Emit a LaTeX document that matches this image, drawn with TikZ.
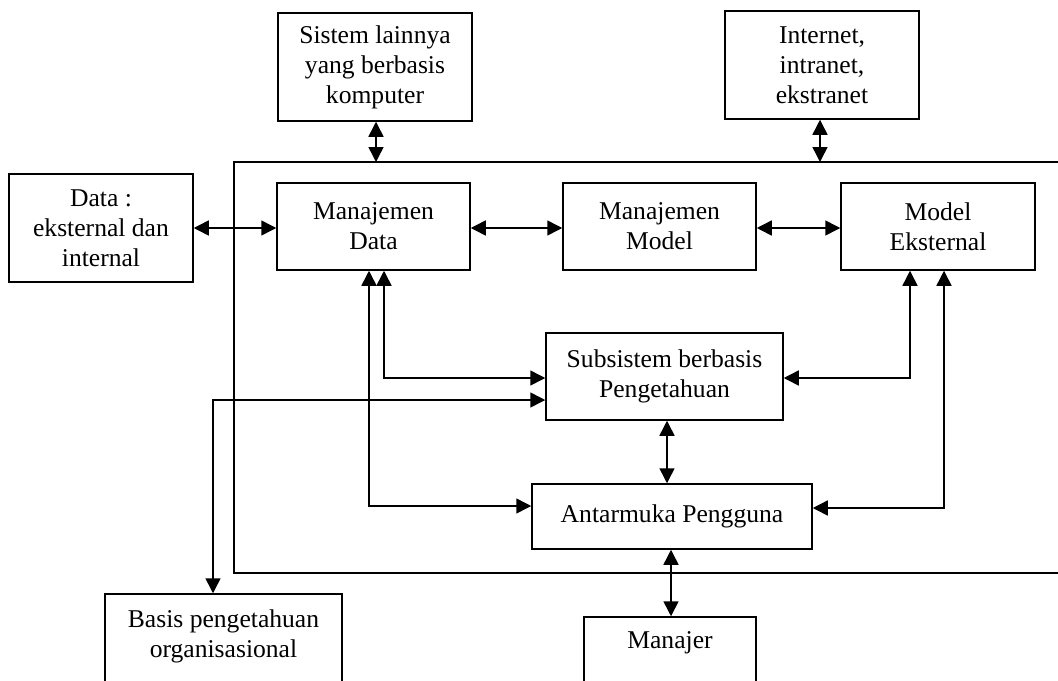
\documentclass[tikz,border=0pt]{standalone}
\usepackage{fontspec}
\setmainfont{Liberation Serif}
\usetikzlibrary{arrows.meta,calc}
\begin{document}
\begin{tikzpicture}[x=0.5pt,y=-0.5pt,
  every node/.style={font=\fontsize{12.8}{15}\selectfont, align=center},
  box/.style={draw, line width=0.75pt, inner sep=0pt},
  txt/.style={inner sep=0pt},
  biarrow/.style={line width=0.75pt, {Triangle[length=7.5pt,width=7.5pt]}-{Triangle[length=7.5pt,width=7.5pt]}},
  frame/.style={line width=0.75pt}]
\fill[white] (0,0) rectangle (1058,680);
\clip (0,0) rectangle (1058,680);

% outer frame (open to the right)
\draw[frame] (1075,162) -- (234,162) -- (234,573) -- (1075,573);
\coordinate (ftop) at (600,162);

% boxes
\node[box, minimum width=97pt, minimum height=54pt] (sis) at (375,67) {Sistem lainnya\\yang berbasis\\komputer};
\node[box, minimum width=97pt, minimum height=54pt] (inet) at (822,65) {Internet,\\intranet,\\ekstranet};
\node[box, minimum width=92pt, minimum height=54pt] (data) at (101,228) {Data :\\eksternal dan\\internal};
\node[box, minimum width=96.5pt, minimum height=43.5pt] (mdata) at (373.5,226.5) {Manajemen\\Data};
\node[box, minimum width=96.5pt, minimum height=43.5pt] (mmodel) at (659.5,226.5) {Manajemen\\Model};
\node[box, minimum width=97pt, minimum height=43.5pt] (meks) at (938,226.5) {Model\\Eksternal};
\node[box, minimum width=118.5pt, minimum height=43.5pt] (sub) at (664.5,376.5) {Subsistem berbasis\\Pengetahuan};
\node[box, minimum width=140pt, minimum height=32.5pt] (ui) at (672,516.5) {Antarmuka Pengguna};
\node[box, minimum width=118.5pt, minimum height=55pt] (basis) at (223.5,649) {};
\node[txt] (basist) at (223.5,636) {Basis pengetahuan\\organisasional};
\node[box, minimum width=86pt, minimum height=50pt] (mgr) at (670,667) {};
\node[txt] (mgrt) at (670,643) {Manajer};

% helper positions
\coordinate (xs) at (376,0);
\coordinate (xi) at (820,0);
\coordinate (xa) at (384,0);
\coordinate (xb) at (369,0);
\coordinate (xc) at (213,0);
\coordinate (xd) at (910,0);
\coordinate (xe) at (944,0);
\coordinate (xf) at (667,0);
\coordinate (xg) at (671,0);
\coordinate (ya) at (0,378);
\coordinate (yb) at (0,506);
\coordinate (yc) at (0,400);
\coordinate (yd) at (0,508);
\coordinate (yh) at (0,228);

% connectors
\draw[biarrow] (sis.south -| xs) -- (ftop -| xs);
\draw[biarrow] (inet.south -| xi) -- (ftop -| xi);
\draw[biarrow] (data.east |- yh) -- (mdata.west |- yh);
\draw[biarrow] (mdata.east |- yh) -- (mmodel.west |- yh);
\draw[biarrow] (mmodel.east |- yh) -- (meks.west |- yh);
\draw[biarrow] (mdata.south -| xa) |- (sub.west |- ya);
\draw[biarrow] (mdata.south -| xb) |- (ui.west |- yb);
\draw[biarrow] (sub.west |- yc) -| (basis.north -| xc);
\draw[biarrow] (meks.south -| xd) |- (sub.east |- ya);
\draw[biarrow] (meks.south -| xe) |- (ui.east |- yd);
\draw[biarrow] (sub.south -| xf) -- (ui.north -| xf);
\draw[biarrow] (ui.south -| xg) -- (mgr.north -| xg);
\end{tikzpicture}
\end{document}
